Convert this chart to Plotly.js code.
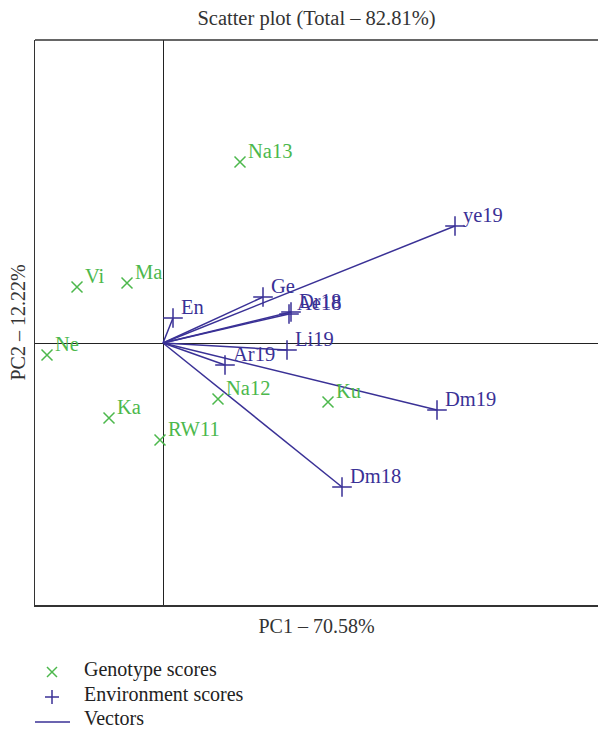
<!DOCTYPE html>
<html><head><meta charset="utf-8">
<script src="https://cdn.plot.ly/plotly-3.0.1.min.js"></script>
<style>html,body{margin:0;padding:0;background:#fff;overflow:hidden}</style>
</head><body><div id="chart" style="width:598px;height:730px"></div>
<script>
// Genotype scores
const genotypeNames = ['Na13', 'Vi', 'Ma', 'Ne', 'Ka', 'RW11', 'Na12', 'Ku'];
const genotypePC1   = [1.54, -1.72, -0.72, -2.32, -1.08, -0.06, 1.10, 3.30];
const genotypePC2   = [3.62, 1.12, 1.20, -0.24, -1.50, -1.94, -1.12, -1.18];

// Environment scores
const envNames = ['ye19', 'Ge', 'Ae18', 'Dr18', 'En', 'Li19', 'Ar19', 'Dm19', 'Dm18'];
const envPC1   = [5.84, 2.00, 2.52, 2.56, 0.20, 2.48, 1.24, 5.48, 3.58];
const envPC2   = [2.34, 0.92, 0.58, 0.62, 0.50, -0.14, -0.44, -1.34, -2.88];

const chartTitle = 'Scatter plot (Total – 82.81%)';
const xTitle = 'PC1 – 70.58%';
const yTitle = 'PC2 – 12.22%';
const legendNames = ['Genotype scores', 'Environment scores', 'Vectors'];

const GREEN = '#4cb84c';
const BLUE = '#3a3196';
const FONT = '"Liberation Serif", "DejaVu Serif", serif';

// plot area in pixels: left 35, right 598, top 40, bottom 605
const L = 35, R = 598, T = 40, B = 605;
const px2x = p => (p - L) / (R - L);
const py2y = p => (B - p) / (B - T);

const vecX = envPC1.flatMap(v => [0, v, null]);
const vecY = envPC2.flatMap(v => [0, v, null]);

const traces = [
  {
    type: 'scatter', mode: 'lines', name: legendNames[2],
    x: vecX, y: vecY, line: {color: BLUE, width: 1.5},
    hoverinfo: 'skip', showlegend: false
  },
  {
    type: 'scatter', mode: 'markers', name: legendNames[0],
    x: genotypePC1, y: genotypePC2, showlegend: false,
    marker: {symbol: 'x-thin', size: 11, line: {color: GREEN, width: 1.5}, color: GREEN}
  },
  {
    type: 'scatter', mode: 'markers', name: legendNames[1],
    x: envPC1, y: envPC2, showlegend: false,
    marker: {symbol: 'cross-thin', size: 14, line: {color: BLUE, width: 1.5}, color: BLUE}
  }
];

function labels(names, xs, ys, color) {
  return names.map((t, i) => ({
    x: xs[i], y: ys[i], xref: 'x', yref: 'y', text: t, showarrow: false,
    xanchor: 'left', yanchor: 'middle', xshift: 6, yshift: 11,
    font: {family: FONT, size: 20.5, color: color}
  }));
}

// manual legend (symbols as shapes, texts as annotations)
const legRows = [669, 694, 718];
const legSymX = 52;
const legendShapes = [
  // x marker
  {type: 'line', xref: 'paper', yref: 'paper', x0: px2x(legSymX - 5), x1: px2x(legSymX + 5),
   y0: py2y(legRows[0] + 3 - 5), y1: py2y(legRows[0] + 3 + 5), line: {color: GREEN, width: 1.5}},
  {type: 'line', xref: 'paper', yref: 'paper', x0: px2x(legSymX - 5), x1: px2x(legSymX + 5),
   y0: py2y(legRows[0] + 3 + 5), y1: py2y(legRows[0] + 3 - 5), line: {color: GREEN, width: 1.5}},
  // + marker
  {type: 'line', xref: 'paper', yref: 'paper', x0: px2x(legSymX - 7), x1: px2x(legSymX + 7),
   y0: py2y(legRows[1] + 3), y1: py2y(legRows[1] + 3), line: {color: BLUE, width: 1.5}},
  {type: 'line', xref: 'paper', yref: 'paper', x0: px2x(legSymX), x1: px2x(legSymX),
   y0: py2y(legRows[1] + 3 - 7), y1: py2y(legRows[1] + 3 + 7), line: {color: BLUE, width: 1.5}},
  // vector line
  {type: 'line', xref: 'paper', yref: 'paper', x0: px2x(35), x1: px2x(70),
   y0: py2y(legRows[2] + 4), y1: py2y(legRows[2] + 4), line: {color: BLUE, width: 1.5}}
];
const legendTexts = legendNames.map((t, i) => ({
  xref: 'paper', yref: 'paper', x: px2x(82), y: py2y(legRows[i]),
  xanchor: 'left', yanchor: 'middle', showarrow: false, text: t,
  font: {family: FONT, size: 20, color: '#222'}
}));

const layout = {
  width: 598, height: 730,
  margin: {l: L, r: 598 - R, t: T, b: 730 - B},
  paper_bgcolor: '#fff', plot_bgcolor: '#fff',
  font: {family: FONT, size: 20, color: '#333'},
  showlegend: false,
  title: {text: chartTitle, x: 0.5, xref: 'paper', y: 1 - 18 / 730, yref: 'container',
          yanchor: 'middle', font: {family: FONT, size: 20.5, color: '#333'}},
  xaxis: {
    range: [-2.56, 8.7], showgrid: false, showticklabels: false, ticks: '',
    zeroline: true, zerolinecolor: '#222', zerolinewidth: 1,
    showline: true, linecolor: '#333', linewidth: 1.5, mirror: false,
    title: {text: xTitle, font: {family: FONT, size: 20, color: '#333'}, standoff: 13}
  },
  yaxis: {
    range: [-5.24, 6.06], showgrid: false, showticklabels: false, ticks: '',
    zeroline: true, zerolinecolor: '#222', zerolinewidth: 1,
    showline: true, linecolor: '#333', linewidth: 1.5, mirror: false,
    title: {text: yTitle, font: {family: FONT, size: 20, color: '#333'}, standoff: 2}
  },
  shapes: [
    {type: 'line', xref: 'paper', yref: 'paper', x0: 0, x1: 1.01, y0: 1, y1: 1,
     line: {color: '#333', width: 1.5}}
  ].concat(legendShapes),
  annotations: labels(genotypeNames, genotypePC1, genotypePC2, GREEN)
    .concat(labels(envNames, envPC1, envPC2, BLUE))
    .concat(legendTexts)
};

Plotly.newPlot('chart', traces, layout, {displayModeBar: false, staticPlot: true});
</script></body></html>
